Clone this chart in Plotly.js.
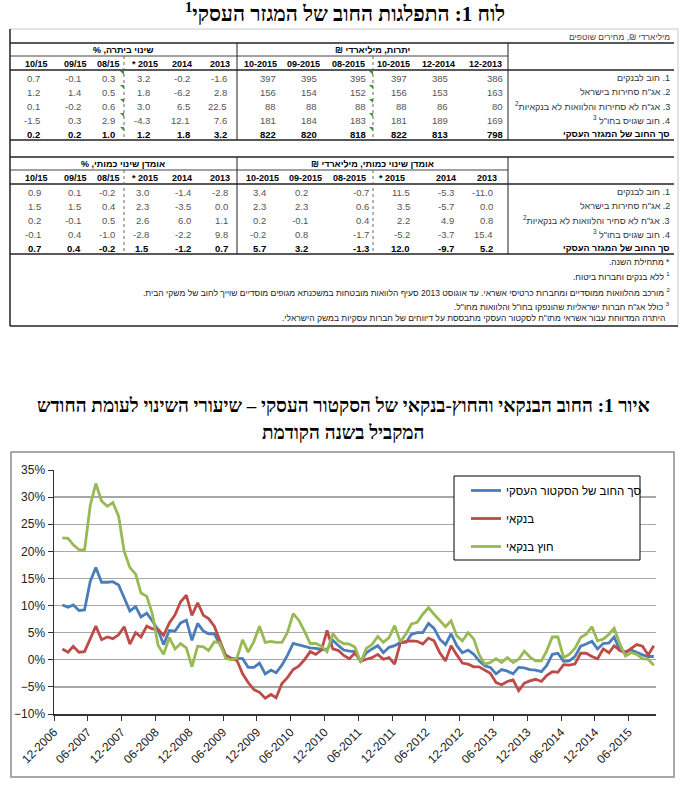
<!DOCTYPE html>
<html>
<head>
<meta charset="utf-8">
<script src="https://cdn.plot.ly/plotly-3.0.1.min.js"></script>
<style>html,body{margin:0;padding:0;background:#fff;}#chart{width:686px;height:788px;}</style>
</head>
<body>
<div id="chart"></div>
<script>
// ---------------- DATA ----------------
const tableTitle = 'לוח 1: התפלגות החוב של המגזר העסקי<sup>1</sup>';
const unitNote = 'מיליארדי ₪, מחירים שוטפים';
const rowLabels1 = ['1. חוב לבנקים', '2. אג"ח סחירות בישראל', '3. אג"ח לא סחירות והלוואות לא בנקאיות<sup>2</sup>', '4. חוב שגויס בחו"ל <sup>3</sup>', 'סך החוב של המגזר העסקי'];
const rowLabels2 = ['1. חוב לבנקים', '2. אג"ח סחירות בישראל', '3. אג"ח לא סחיר והלוואות לא בנקאיות<sup>2</sup>', '4. חוב שגויס בחו"ל <sup>3</sup>', 'סך החוב של המגזר העסקי'];
const groupPct1 = 'שינוי ביתרה, %';
const groupLvl1 = 'יתרות, מיליארדי ₪';
const groupPct2 = 'אומדן שינוי כמותי, %';
const groupLvl2 = 'אומדן שינוי כמותי, מיליארדי ₪';
const pctCols = ['10/15', '09/15', '08/15', '* 2015', '2014', '2013'];
const lvlCols1 = ['10-2015', '09-2015', '08-2015', '10-2015', '12-2014', '12-2013'];
const lvlCols2 = ['10-2015', '09-2015', '08-2015', '* 2015', '2014', '2013'];
const balancePct = [
  [0.7, -0.1, 0.3, 3.2, -0.2, -1.6],
  [1.2, 1.4, 0.5, 1.8, -6.2, 2.8],
  [0.1, -0.2, 0.6, 3.0, 6.5, 22.5],
  [-1.5, 0.3, 2.9, -4.3, 12.1, 7.6],
  [0.2, 0.2, 1.0, 1.2, 1.8, 3.2]
];
const balanceLvl = [
  [397, 395, 395, 397, 385, 386],
  [156, 154, 152, 156, 153, 163],
  [88, 88, 88, 88, 86, 80],
  [181, 184, 183, 181, 189, 169],
  [822, 820, 818, 822, 813, 798]
];
const flowPct = [
  [0.9, 0.1, -0.2, 3.0, -1.4, -2.8],
  [1.5, 1.5, 0.4, 2.3, -3.5, 0.0],
  [0.2, -0.1, 0.5, 2.6, 6.0, 1.1],
  [-0.1, 0.4, -1.0, -2.8, -2.2, 9.8],
  [0.7, 0.4, -0.2, 1.5, -1.2, 0.7]
];
const flowLvl = [
  [3.4, 0.2, -0.7, 11.5, -5.3, -11.0],
  [2.3, 2.3, 0.6, 3.5, -5.7, 0.0],
  [0.2, -0.1, 0.4, 2.2, 4.9, 0.8],
  [-0.2, 0.8, -1.7, -5.2, -3.7, 15.4],
  [5.7, 3.2, -1.3, 12.0, -9.7, 5.2]
];
const footnotes = [
  '* מתחילת השנה.',
  '<sup>1</sup> ללא בנקים וחברות ביטוח.',
  '<sup>2</sup> מורכב מהלוואות ממוסדיים ומחברות כרטיסי אשראי. עד אוגוסט 2013 סעיף הלוואות מובטחות במשכנתא מגופים מוסדיים שוייך לחוב של משקי הבית.',
  '<sup>3</sup> כולל אג"ח חברות ישראליות שהונפקו בחו"ל והלוואות מחו"ל.',
  'היתרה המדווחת עבור אשראי מתו"ח לסקטור העסקי מתבססת על דיווחים של חברות עסקיות במשק הישראלי.'
];
const chartTitle1 = 'איור 1: החוב הבנקאי והחוץ-בנקאי של הסקטור העסקי – שיעורי השינוי לעומת החודש';
const chartTitle2 = 'המקביל בשנה הקודמת';
const seriesNames = ['סך החוב של הסקטור העסקי', 'בנקאי', 'חוץ בנקאי'];
const firstMonth = [2007, 1];   // monthly observations from 01-2007 to 10-2015
const totalDebt = [
  10.1, 9.7, 10.1, 9.1, 9.2, 14.5, 17.0, 14.3, 14.3, 14.4,
  13.8, 11.5, 9.0, 9.8, 7.9, 8.6, 7.2, 5.5, 2.8, 5.4,
  5.3, 6.8, 7.3, 3.6, 6.7, 5.3, 4.8, 4.8, 3.0, 0.9,
  0.3, 0.3, 0.2, -1.4, -1.4, -0.6, -2.6, -1.9, -2.4, -1.0,
  0.8, 3.0, 2.7, 2.4, 2.2, 2.1, 1.9, 1.9, 3.6, 2.6,
  1.8, 1.6, 1.5, -0.3, 1.3, 2.0, 2.6, 1.3, 2.3, 2.6,
  3.2, 3.2, 4.7, 5.0, 5.0, 6.7, 5.8, 3.8, 2.8, 4.8,
  2.6, 1.3, 1.8, 1.0, -0.2, -1.1, -1.4, -2.6, -1.8, -2.1,
  -2.6, -1.4, -1.5, -1.8, -1.9, -2.2, -1.1, 1.0, 1.2, -0.3,
  -0.2, 0.6, 2.5, 2.9, 3.4, 2.0, 3.0, 3.1, 4.2, 1.7,
  1.5, 1.8, 1.3, 0.9, 0.6, 0.6
];
const bankDebt = [
  2.0, 1.4, 2.5, 1.4, 1.5, 4.0, 6.2, 3.7, 4.2, 3.9,
  4.6, 6.1, 2.9, 5.0, 4.2, 6.2, 5.7, 5.6, 4.5, 6.8,
  8.3, 10.7, 11.9, 8.2, 10.5, 8.2, 7.6, 6.2, 3.7, 0.8,
  0.2, -0.1, -2.6, -4.2, -5.5, -6.0, -7.1, -6.4, -7.0, -4.4,
  -3.3, -1.8, -1.2, 0.0, 1.5, 1.0, 1.8, 5.4, 2.0, 1.7,
  0.8, 0.2, 1.3, -0.3, 0.1, 0.4, 1.0, 0.1, 0.4, -0.8,
  3.1, 3.4, 3.5, 3.4, 2.9, 4.0, 3.5, 1.3, -0.2, 2.6,
  0.9, -0.6, -0.8, -1.3, -1.3, -1.9, -2.5, -4.2, -4.6, -4.0,
  -3.7, -5.7, -4.3, -3.9, -3.6, -4.0, -2.9, -2.2, -2.3, -0.9,
  -1.0, -0.8, 1.2, 1.2, 0.6, 0.2, 2.0, 1.3, 2.6, 1.7,
  1.3, 2.1, 2.8, 2.5, 0.9, 2.6
];
const nonBankDebt = [
  22.5, 22.4, 21.2, 20.3, 20.2, 28.5, 32.5, 29.3, 28.3, 29.0,
  26.5, 20.0, 17.0, 15.8, 12.3, 11.7, 8.5, 2.7, 1.0, 4.1,
  2.0, 3.0, 2.2, -1.3, 2.5, 2.4, 1.7, 3.3, 3.1, 0.3,
  0.0, 0.3, 3.7, 1.4, 3.4, 6.2, 3.2, 3.4, 3.2, 3.2,
  5.0, 8.5, 7.3, 5.3, 3.0, 3.0, 2.5, 1.5, 4.8, 3.5,
  3.0, 2.9, 2.3, -0.5, 2.1, 2.8, 4.3, 3.2, 4.1, 6.3,
  3.3, 4.8, 6.6, 6.9, 8.4, 9.6, 8.4, 7.2, 6.1, 7.2,
  4.4, 3.5, 5.0, 3.8, 1.0, -0.8, -0.5, 0.2, -0.5, 0.4,
  -0.5, 0.1, 1.6, 0.5, -0.2, -0.2, 1.6, 4.2, 4.2, 0.4,
  1.0, 2.1, 4.1, 4.7, 6.1, 3.5, 3.8, 4.7, 5.8, 2.9,
  0.7, 1.3, 1.0, 0.2, 0.1, -1.0
];

// ---------------- HELPERS ----------------
const W = 686, H = 788;
const px = v => v / W;
const py = v => 1 - v / H;
const SANS = 'Liberation Sans, Arial, DejaVu Sans, sans-serif';
const SERIF = 'Liberation Serif, Times New Roman, DejaVu Serif, serif';
const RLM = '\u200F';
const rtl = s => RLM + s + RLM;

const months = [];
for (let i = 0; i < totalDebt.length; i++) {
  const mm = firstMonth[1] - 1 + i;
  const y = firstMonth[0] + Math.floor(mm / 12);
  const m = (mm % 12) + 1;
  months.push(y + '-' + String(m).padStart(2, '0') + '-15');
}

const anns = [];
const shapes = [];
function txt(x, y, s, size, color, anchor, bold, family) {
  anns.push({xref: 'paper', yref: 'paper', x: px(x), y: py(y), text: s, showarrow: false,
    xanchor: anchor || 'center', yanchor: 'middle', borderpad: 0,
    font: {family: family || SANS, size: size || 9, color: color || '#000', weight: bold ? 'bold' : 'normal'}});
}
function hline(x0, x1, y, color, w, dash) {
  shapes.push({type: 'line', xref: 'paper', yref: 'paper', x0: px(x0), x1: px(x1), y0: py(y), y1: py(y),
    line: {color: color, width: w, dash: dash || 'solid'}});
}
function vline(x, y0, y1, color, w, dash) {
  shapes.push({type: 'line', xref: 'paper', yref: 'paper', x0: px(x), x1: px(x), y0: py(y0), y1: py(y1),
    line: {color: color, width: w, dash: dash || 'solid'}});
}
function marker(x, y) {  // small green comment indicator of the spreadsheet
  shapes.push({type: 'path', xref: 'paper', yref: 'paper',
    path: 'M' + px(x - 4) + ',' + py(y) + ' L' + px(x) + ',' + py(y) + ' L' + px(x) + ',' + py(y + 4) + ' Z',
    fillcolor: '#2e9e2e', line: {width: 0}});
}

// ---------------- TABLE ----------------
txt(345, 13, rtl(tableTitle), 21, '#000', 'center', true, SERIF);
hline(10, 678, 29, '#c8c8c8', 1);
vline(678, 29, 326, '#c8c8c8', 1);
vline(10, 29, 326, '#222', 1.5);
hline(10, 678, 326, '#222', 1.5);
txt(671, 37, rtl(unitNote), 8.5, '#444', 'right');

function block(y0, gPct, gLvl, lvlCols, pct, lvl, labels, lvlInt, pos, marks) {
  hline(10, 674, y0, '#222', 1.6);
  hline(10, 508, y0 + 13, '#444', 1);
  hline(10, 674, y0 + 27, '#222', 1.6);
  hline(10, 674, y0 + 97, '#222', 1.6);
  vline(237, y0, y0 + 97, '#222', 1);
  vline(508, y0, y0 + 97, '#222', 1);
  vline(124, y0 + 13, y0 + 97, '#666', 1, 'dot');
  vline(373, y0 + 13, y0 + 97, '#666', 1, 'dot');
  txt(123, y0 + 7, rtl(gPct), 9, '#000', 'center', true);
  txt(372, y0 + 7, rtl(gLvl), 9, '#000', 'center', true);
  for (let c = 0; c < 6; c++) {
    txt(pos.pctHead[c], y0 + 21, pctCols[c], 9, '#000', 'center', true);
    txt(pos.lvlHead[c], y0 + 21, lvlCols[c], 9, '#000', 'center', true);
  }
  for (let r = 0; r < 5; r++) {
    const yy = y0 + 35 + r * 14;
    const tot = r === 4;
    const col = tot ? '#000' : '#555';
    if (marks) { marker(124, yy - 7); marker(373, yy - 7); }
    for (let c = 0; c < 6; c++) {
      const a = pct[r][c].toFixed(1);
      const b = lvlInt ? String(lvl[r][c]) : lvl[r][c].toFixed(1);
      txt(pos.pctRight[c], yy, a, 9.5, col, 'right', tot);
      txt(pos.lvlRight[c], yy, b, 9.5, col, 'right', tot);
    }
    txt(671, yy, rtl(labels[r]), 9, tot ? '#000' : '#333', 'right', tot);
  }
}
block(43, groupPct1, groupLvl1, lvlCols1, balancePct, balanceLvl, rowLabels1, true, {
  pctHead: [36, 75, 108, 145, 182, 220], lvlHead: [260, 303, 348, 393, 438, 485],
  pctRight: [41, 82, 116, 151, 191, 228], lvlRight: [277, 318, 367, 408, 449, 504]}, true);
block(157, groupPct2, groupLvl2, lvlCols2, flowPct, flowLvl, rowLabels2, false, {
  pctHead: [36, 75, 108, 145, 182, 220], lvlHead: [262, 305, 349, 392, 446, 487],
  pctRight: [42, 82, 116, 150, 192, 229], lvlRight: [267, 309, 370, 411, 455, 494]}, false);

const fnY = [262, 276, 292, 306, 318];
footnotes.forEach((f, i) => {
  txt(i === 4 ? 666 : 671, fnY[i], rtl(f), 8.5, '#222', 'right');
});

// ---------------- CHART ----------------
txt(343, 405, rtl(chartTitle1), 19, '#000', 'center', true, SERIF);
txt(343, 432, rtl(chartTitle2), 19, '#000', 'center', true, SERIF);
shapes.push({type: 'rect', xref: 'paper', yref: 'paper', x0: px(11), x1: px(674), y0: py(777), y1: py(452),
  line: {color: '#8c8c8c', width: 1.5}, fillcolor: 'rgba(0,0,0,0)', layer: 'below'});
shapes.push({type: 'rect', xref: 'paper', yref: 'paper', x0: px(454), x1: px(640), y0: py(560), y1: py(476),
  line: {color: '#000', width: 1}, fillcolor: '#fff', layer: 'above'});

const colors = ['#4A7EBB', '#BE4B48', '#98B954'];
const ys = [totalDebt, bankDebt, nonBankDebt];
const traces = ys.map((v, i) => ({
  type: 'scatter', mode: 'lines', x: months, y: v, name: seriesNames[i], legendgroup: 'g' + i,
  line: {color: colors[i], width: 2.8}, hoverinfo: 'skip'
}));

const layout = {
  width: W, height: H, margin: {l: 0, r: 0, t: 0, b: 0},
  paper_bgcolor: '#fff', plot_bgcolor: '#fff',
  font: {family: SANS, color: '#222'},
  showlegend: true,
  legend: {x: px(466), y: py(476), xanchor: 'left', yanchor: 'top', bgcolor: 'rgba(0,0,0,0)',
    borderwidth: 0, tracegroupgap: 9, itemwidth: 30, font: {family: SANS, size: 11.5, color: '#000'}},
  xaxis: {type: 'date', domain: [px(54), px(656)], range: ['2006-12-01', '2015-10-27'],
    tick0: '2006-12-01', dtick: 'M6', tickformat: '%m-%Y', tickangle: -45,
    ticks: 'outside', ticklen: 5, tickcolor: '#333', showline: true, linecolor: '#333', linewidth: 1.5,
    showgrid: false, zeroline: false, tickfont: {family: SANS, size: 12, color: '#222'}, anchor: 'y'},
  yaxis: {domain: [py(714), py(470)], range: [-10, 35], dtick: 5, tick0: 0, ticksuffix: '%',
    ticks: 'outside', ticklen: 5, tickcolor: '#333', showline: true, linecolor: '#333', linewidth: 1.5,
    showgrid: true, gridcolor: '#a8a8a8', gridwidth: 1.3, zeroline: false,
    tickfont: {family: SANS, size: 12, color: '#222'}, anchor: 'x'},
  annotations: anns,
  shapes: shapes
};
Plotly.newPlot('chart', traces, layout, {displayModeBar: false, staticPlot: true});
</script>
</body>
</html>
